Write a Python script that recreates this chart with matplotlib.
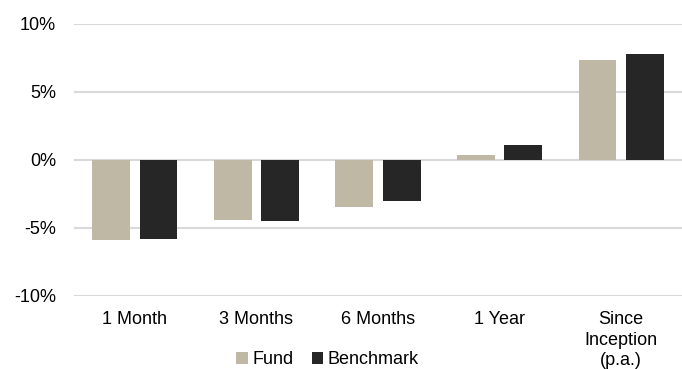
import numpy as np
import matplotlib.pyplot as plt
from matplotlib.ticker import FuncFormatter

plt.rcParams['font.family'] = ['Liberation Sans', 'DejaVu Sans']

categories = ['1 Month', '3 Months', '6 Months', '1 Year', 'Since\nInception\n(p.a.)']
fund = [-5.86, -4.41, -3.46, 0.39, 7.38]
benchmark = [-5.78, -4.49, -3.01, 1.10, 7.77]

fig = plt.figure(figsize=(6.82, 3.69), dpi=100)
ax = fig.add_axes([0.1085, 0.198, 0.8915, 0.737])

x = np.arange(len(categories))
w = 0.31
ax.bar(x - 0.195, fund, w, color='#BFB8A5', label='Fund', zorder=3)
ax.bar(x + 0.195, benchmark, w, color='#262626', label='Benchmark', zorder=3)

ax.set_xlim(-0.5, 4.5)
ax.set_ylim(-10, 10)
ax.set_yticks([-10, -5, 0, 5, 10])
ax.yaxis.set_major_formatter(FuncFormatter(lambda v, p: '{:.0f}%'.format(v)))
ax.grid(axis='y', color='#D9D9D9', linewidth=1.5, zorder=0)
ax.set_xticks(x)
ax.set_xticklabels(categories, fontsize=13, linespacing=1.28)
ax.tick_params(axis='y', labelsize=13, length=0, pad=13)
ax.tick_params(axis='x', length=0, pad=11)
for s in ax.spines.values():
    s.set_visible(False)

fig.legend(loc='center', bbox_to_anchor=(0.4805, 0.026), ncol=2, frameon=False,
           fontsize=13, handlelength=0.65, handleheight=0.65, handletextpad=0.25,
           columnspacing=1.0, borderpad=0)

fig.savefig('out.png', dpi=100)
